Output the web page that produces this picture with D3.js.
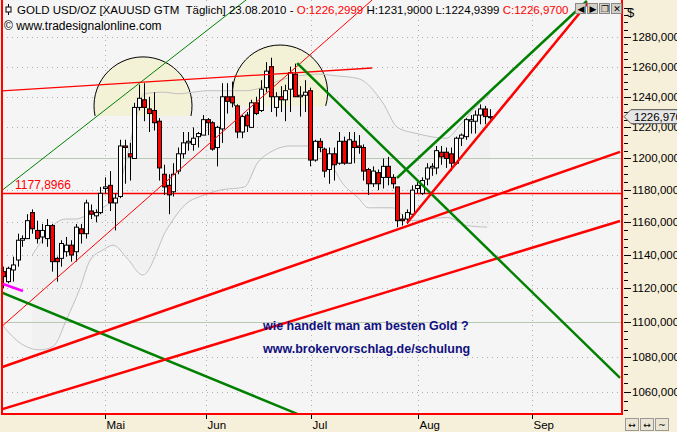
<!DOCTYPE html>
<html><head><meta charset="utf-8">
<script src="https://cdn.jsdelivr.net/npm/d3@7"></script>
<style>body{margin:0;background:#f6efd9;overflow:hidden}svg{display:block}</style>
</head><body><svg id="c" width="677" height="432"></svg>
<script>
// OHLC per trading day (April 2010 – 23.08.2010)
const opens =[1130,1124,1131,1137,1149,1150,1166,1155,1151,1150,1158,1138,1138,1142,1146,1142,1156,1153,1167,1164,1166,1181,1183,1172,1176,1208,1203,1200,1233,1238,1232,1231,1224,1190,1183,1179,1192,1203,1210,1209,1214,1215,1225,1223,1207,1219,1240,1240,1234,1217,1228,1220,1236,1231,1246,1260,1233,1240,1238,1245,1255,1240,1241,1244,1199,1211,1206,1193,1203,1197,1211,1197,1211,1208,1207,1193,1184,1191,1188,1195,1188,1182,1162,1162,1165,1181,1178,1187,1194,1194,1204,1204,1203,1197,1213,1214,1224,1224,1228,1232,1226.3];
const closes=[1127,1132,1134,1149,1150,1161,1156,1150,1155,1158,1136,1136,1147,1146,1140,1157,1153,1172,1165,1166,1178,1182,1172,1175,1208,1207,1201,1233,1239,1233,1229,1223,1194,1182,1177,1190,1203,1210,1211,1213,1216,1225,1223,1206,1220,1240,1237,1236,1217,1227,1221,1236,1229,1245,1257,1240,1240,1238,1244,1256,1240,1241,1243,1199,1211,1207,1192,1203,1196,1211,1197,1212,1207,1207,1192,1184,1192,1184,1195,1188,1184,1161,1161,1166,1180,1183,1186,1194,1195,1205,1201,1200,1197,1213,1215,1225,1225,1228,1232,1227,1226.97];
const highs =[1133,1133,1139,1153,1152,1165,1168,1161,1159,1162,1159,1139,1149,1151,1149,1159,1159,1174,1171,1168,1182,1188,1192,1178,1212,1212,1210,1236,1248,1249,1240,1243,1226,1196,1190,1197,1207,1217,1217,1220,1217,1228,1226,1224,1221,1249,1249,1250,1235,1228,1230,1238,1240,1251,1263,1266,1243,1247,1248,1260,1262,1247,1251,1246,1212,1213,1207,1207,1207,1217,1214,1217,1217,1215,1209,1194,1195,1193,1200,1201,1190,1182,1165,1168,1183,1185,1188,1197,1197,1208,1208,1207,1207,1214,1216,1226,1228,1231,1235,1234,1231.9];
const lows  =[1120,1123,1124,1133,1145,1150,1153,1147,1147,1145,1130,1124,1133,1139,1136,1136,1147,1150,1162,1160,1165,1178,1167,1155,1175,1184,1186,1200,1231,1224,1217,1218,1186,1177,1165,1176,1190,1200,1205,1205,1207,1215,1215,1205,1195,1210,1229,1233,1213,1213,1217,1220,1228,1230,1243,1230,1227,1230,1224,1230,1240,1227,1230,1195,1198,1204,1188,1184,1186,1196,1196,1197,1197,1203,1186,1177,1182,1180,1181,1183,1181,1157,1158,1159,1163,1178,1177,1183,1189,1190,1196,1194,1192,1196,1208,1212,1216,1216,1222,1222,1224.94];
// Bollinger bands: [day index, price]
const upperBand=[[6,1140],[8,1149],[11,1160],[13,1162],[15,1162],[17,1164],[19,1166],[21,1170],[23,1175],[25,1195],[27,1222],[29,1242],[33,1243],[36,1242],[39,1243],[42,1244],[46,1244],[50,1244],[53,1246],[57,1251],[61,1254],[65,1255],[68,1254],[73,1252],[78,1236],[81,1220],[85,1216],[91,1213],[94,1222],[97,1233],[100,1242]];
const lowerBand=[[-0.6,1100],[3.5,1088],[7.6,1084],[10.3,1086],[13.1,1102],[15.8,1120],[17.9,1137],[20.5,1143],[22.6,1146],[25.5,1138],[28.7,1128],[33.7,1156],[37.8,1172],[40.5,1176],[44.6,1180],[49.6,1182],[52.2,1197],[54.9,1204],[59,1208],[63,1208],[66.5,1201],[69.8,1184],[73,1175],[75,1169],[80,1169],[83.6,1161],[91.2,1163],[95.3,1158],[99.4,1157]];
// Trend lines: [[idx,price],[idx,price]], colour, width
const trendLines=[
 {p:[[-0.6,1178.9],[49.9,1305.4]],c:"#008000",w:1},
 {p:[[-0.6,1096.7],[75.8,1305.4]],c:"#ff0000",w:1},
 {p:[[-0.6,1243.8],[75.8,1259.1]],c:"#ff0000",w:1.3},
 {p:[[-0.6,1117.9],[60.4,1047.8]],c:"#008000",w:2.5},
 {p:[[-0.6,1123.2],[4.1,1118.4]],c:"#ff00ff",w:2.5},
 {p:[[-0.6,1073.7],[126.7,1204.2]],c:"#ff0000",w:2.5},
 {p:[[-0.6,1050.0],[126.7,1160.8]],c:"#ff0000",w:2.5},
 {p:[[60.4,1262.4],[126.7,1068.0]],c:"#008000",w:2.5},
 {p:[[80.9,1187.6],[119.9,1304.7]],c:"#008000",w:2.5},
 {p:[[82.96,1159.6],[120.1,1303.3]],c:"#ff0000",w:2.5}
];
const refLevel=1177.8966;
// arcs: centre index, centre price, base price, radius in px
const arcs=[{cx:28.75,cy:1234,base:1227.4,r:49},{cx:56.9,cy:1242.8,base:1234,r:47.5}];
const yTicks=[1060,1080,1100,1120,1140,1160,1180,1200,1220,1240,1260,1280];
const months=[{n:"Mai",i:20.9},{n:"Jun",i:41.7},{n:"Jul",i:63.2},{n:"Aug",i:85.2},{n:"Sep",i:108.6}];
const lastPrice=1226.97;

const svg=d3.select("#c");
const L=2,R=622,T=0,B=414;
const x=d3.scaleLinear().domain([0,100]).range([3,490]);
const y=d3.scaleLog().domain([1060,1280]).range([392,37]);
const f=v=>d3.format(".4f")(v).replace(".",",");

svg.append("rect").attr("x",L).attr("y",T).attr("width",R-L).attr("height",B-T).attr("fill","#f5f5f5");
svg.append("clipPath").attr("id","cp").append("rect").attr("x",L).attr("y",T).attr("width",R-L).attr("height",B-T);
const g=svg.append("g").attr("clip-path","url(#cp)");

// bollinger fill
const ub=d3.line().x(d=>x(d[0])).y(d=>y(d[1])).curve(d3.curveMonotoneX);
const byIdx=(arr,i)=>{for(let k=1;k<arr.length;k++)if(arr[k][0]>=i){const a=arr[k-1],b=arr[k];return a[1]+(b[1]-a[1])*(i-a[0])/(b[0]-a[0]);}return arr[arr.length-1][1];};
g.append("path").attr("d",d3.area().x(d=>x(d[0])).y0(d=>y(byIdx(lowerBand,d[0]))).y1(d=>y(d[1])).curve(d3.curveMonotoneX)(upperBand))
  .attr("fill","#f1f1f1");

// grid
yTicks.forEach(v=>{
  const solid=(v===1100||v===1200);
  g.append("line").attr("x1",L).attr("x2",R).attr("y1",Math.round(y(v))+.5).attr("y2",Math.round(y(v))+.5)
   .attr("stroke",solid?"#b7c9b1":"#b0b0b0").attr("stroke-dasharray",solid?null:"1,4");
});
months.forEach(m=>g.append("line").attr("x1",Math.round(x(m.i))+.5).attr("x2",Math.round(x(m.i))+.5).attr("y1",T).attr("y2",B)
   .attr("stroke","#b0b0b0").attr("stroke-dasharray","1,4"));

// arcs
arcs.forEach(a=>{
  const cx=x(a.cx),cy=y(a.cy),by=y(a.base),r=a.r;
  const dx=Math.sqrt(Math.max(0,r*r-(by-cy)*(by-cy)));
  const d=`M${cx-dx},${by}A${r},${r} 0 1 1 ${cx+dx},${by}`;
  g.append("path").attr("d",d+"Z").attr("fill","#f3f1d6").attr("stroke","none");
  g.append("path").attr("d",d).attr("fill","none").attr("stroke","#000").attr("stroke-width",1);
});
g.append("path").attr("d",ub(upperBand)).attr("fill","none").attr("stroke","#c0c0c0");
g.append("path").attr("d",ub(lowerBand)).attr("fill","none").attr("stroke","#c0c0c0");

// ref line
g.append("line").attr("x1",L).attr("x2",R).attr("y1",y(refLevel)).attr("y2",y(refLevel)).attr("stroke","#ff0000").attr("stroke-width",1.5);
svg.append("text").attr("x",15).attr("y",y(refLevel)-4).text(f(refLevel)).attr("fill","#ff0000")
  .attr("font-family","Liberation Sans, Arial").attr("font-size",12);

// candles
opens.forEach((o,i)=>{
  const c=closes[i],cx=Math.round(x(i))+.5;
  g.append("line").attr("x1",cx).attr("x2",cx).attr("y1",y(highs[i])).attr("y2",y(lows[i])).attr("stroke","#000");
  const top=y(Math.max(o,c)),h=Math.max(1,y(Math.min(o,c))-top);
  g.append("rect").attr("x",cx-2).attr("y",top).attr("width",4).attr("height",h)
   .attr("fill",c>=o?"#ffffff":"#ff0000").attr("stroke","#000").attr("stroke-width",1);
});

// trend lines
trendLines.forEach(t=>g.append("line").attr("x1",x(t.p[0][0])).attr("y1",y(t.p[0][1])).attr("x2",x(t.p[1][0])).attr("y2",y(t.p[1][1]))
  .attr("stroke",t.c).attr("stroke-width",t.w));

// border
svg.append("path").attr("d",`M${L},${T}V${B}H${R}V${T}`).attr("fill","none").attr("stroke","#ff0000").attr("stroke-width",2);

// y axis
const ax=svg.append("g").attr("font-family","Liberation Sans, Arial").attr("font-size",11.5);
for(let v=1050;v<=1300;v+=5){
  const yy=Math.round(y(v))+.5; const major=v%20===0;
  ax.append("line").attr("x1",624).attr("x2",major?631:628).attr("y1",yy).attr("y2",yy).attr("stroke","#000");
}
yTicks.forEach(v=>ax.append("text").attr("x",632).attr("y",y(v)+4).text(f(v)));
ax.append("text").attr("x",627).attr("y",17).text("$").attr("font-size",13);
const ly=y(lastPrice);
ax.append("path").attr("d",`M624,${ly}l7,-7h50v14h-50z`).attr("fill","#e6e6e6").attr("stroke","#555");
ax.append("text").attr("x",634).attr("y",ly+4).text(f(lastPrice).slice(0,8));

// x axis
months.forEach(m=>{
  const xx=Math.round(x(m.i))+.5;
  svg.append("line").attr("x1",xx).attr("x2",xx).attr("y1",B).attr("y2",B+5).attr("stroke","#000");
  svg.append("text").attr("x",xx+1).attr("y",429).text(m.n).attr("font-family","Liberation Sans, Arial").attr("font-size",11.5);
});

// header
const hd=svg.append("text").attr("x",17).attr("y",14).attr("font-family","Liberation Sans, Arial").attr("font-size",11.5);
hd.append("tspan").text("GOLD USD/OZ [XAUUSD GTM  Täglich] 23.08.2010 - ").attr("style","white-space:pre");
hd.append("tspan").text("O:1226,2999 ").attr("fill","#ff0000");
hd.append("tspan").text("H:1231,9000 L:1224,9399 ");
hd.append("tspan").text("C:1226,9700").attr("fill","#ff0000");
svg.append("line").attr("x1",8.5).attr("x2",8.5).attr("y1",4).attr("y2",15).attr("stroke","#000");
svg.append("rect").attr("x",6).attr("y",7).attr("width",5).attr("height",5).attr("fill","#fff").attr("stroke","#000");
svg.append("text").attr("x",4).attr("y",30).text("© www.tradesignalonline.com").attr("font-family","Liberation Sans, Arial").attr("font-size",12);

// blue note
[["wie handelt man am besten Gold ?",330],["www.brokervorschlag.de/schulung",353]].forEach(t=>
 svg.append("text").attr("x",263).attr("y",t[1]).text(t[0]).attr("fill","#101080").attr("font-weight","bold")
  .attr("font-family","Liberation Sans, Arial").attr("font-size",12.5));

// window buttons
const btn=svg.append("g");
[576,588,600,612].forEach((bx,k)=>{
  btn.append("rect").attr("x",bx-0.5).attr("y",3.5).attr("width",10).attr("height",10).attr("fill","#d4d0c8").attr("stroke","#888");
  btn.append("text").attr("x",bx+5).attr("y",12).attr("text-anchor","middle").attr("font-size",9).attr("font-family","DejaVu Sans")
   .text(["◀","▶","❐","✕"][k]);
});
[626,641,656].forEach((bx,k)=>{
  svg.append("rect").attr("x",bx-0.5).attr("y",418.5).attr("width",13).attr("height",12).attr("fill","#ebe6d4").attr("stroke","#999");
  svg.append("text").attr("x",bx+6).attr("y",428).attr("text-anchor","middle").attr("font-size",9).attr("font-family","DejaVu Sans")
   .text(["↔","↔","~"][k]);
});
</script></body></html>
